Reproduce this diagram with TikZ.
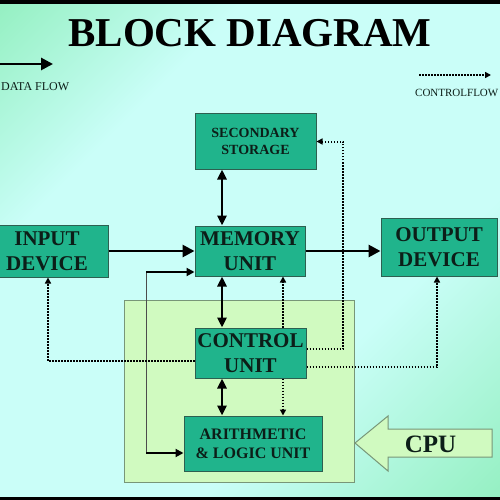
\documentclass[tikz,border=0pt]{standalone}
\usepackage{fontspec}
\setmainfont{Liberation Serif}
\usepackage{xcolor}
\usepackage{tikz}
\usetikzlibrary{arrows.meta, positioning}
\definecolor{unitgreen}{RGB}{32,180,140}
\definecolor{unitedge}{RGB}{45,95,80}
\definecolor{cpugreen}{RGB}{208,250,192}
\definecolor{cpuedge}{RGB}{120,150,120}
\definecolor{bgmint}{RGB}{150,240,195}
\definecolor{bgcyan}{RGB}{202,254,248}
\definecolor{inkdark}{RGB}{12,30,24}
\pgfdeclarehorizontalshading{backdrop}{100bp}{color(0bp)=(bgmint); color(15bp)=(bgmint); color(32bp)=(bgcyan); color(64bp)=(bgcyan); color(85bp)=(bgmint); color(100bp)=(bgmint)}

\tikzset{
    unit/.style={fill=unitgreen, draw=unitedge, line width=1pt, align=center, inner sep=0pt, text=inkdark, font=\fontsize{21}{25}\selectfont\bfseries},
    smallunit/.style={unit, font=\fontsize{14}{17}\selectfont\bfseries},
    dataflow/.style={line width=2.8pt, -{Triangle[length=12pt,width=12pt]}},
    twoway/.style={line width=2.6pt, {Triangle[length=10pt,width=9pt]}-{Triangle[length=10pt,width=9pt]}},
    feedarrow/.style={line width=2pt, -{Triangle[length=8pt,width=8pt]}},
    ctrlflow/.style={line width=2pt, dash pattern=on 1.5pt off 1.5pt, -{Triangle[length=6pt,width=6pt]}},
    legendtext/.style={inner sep=0pt, text=inkdark}
}

\begin{document}
\begin{tikzpicture}[x=1pt, y=-1pt]
    % backdrop
    \useasboundingbox (0,0) rectangle (500,500);
    \shade[shading=backdrop, shading angle=-45] (0,0) rectangle (500,500);
    \fill[black] (0,0) rectangle (500,4);
    \fill[black] (0,497) rectangle (500,500);

    \node[font=\fontsize{41}{48}\selectfont\bfseries] (title) at (250,33) {BLOCK DIAGRAM};

    % legend
    \coordinate (dfstart) at (-4,64);
    \coordinate (dfend) at (53,64);
    \draw[dataflow] (dfstart) -- (dfend);
    \node[legendtext, anchor=base west, font=\fontsize{12}{14}\selectfont] (dflabel) at (1,91) {DATA FLOW};
    \coordinate (cfstart) at (419,75);
    \coordinate (cfend) at (491,75);
    \draw[ctrlflow] (cfstart) -- (cfend);
    \node[legendtext, anchor=base west, font=\fontsize{11}{13}\selectfont] (cflabel) at (415,96) {CONTROLFLOW};

    % cpu region
    \node[fill=cpugreen, draw=cpuedge, line width=1pt, minimum width=230, minimum height=182, inner sep=0pt] (cpu) at (239,391) {};
    \draw[fill=cpugreen, draw=cpuedge, line width=1pt] (355,443) -- (388,416) -- (388,429) -- (492,429) -- (492,457) -- (388,457) -- (388,471) -- cycle;
    \node[text=inkdark, font=\fontsize{25}{30}\selectfont\bfseries] (cpulabel) at (430.5,444) {CPU};

    % units
    \node[smallunit, minimum width=121, minimum height=55] (storage) at (255.5,141.5) {SECONDARY\\STORAGE};
    \node[unit, minimum width=122, minimum height=52] (input) at (47,251) {INPUT\\DEVICE};
    \node[unit, minimum width=110, minimum height=50] (memory) at (250,251) {MEMORY\\UNIT};
    \node[unit, minimum width=116, minimum height=58] (output) at (439,247) {OUTPUT\\DEVICE};
    \node[unit, minimum width=111, minimum height=50] (control) at (250.5,353) {CONTROL\\UNIT};
    \node[smallunit, font=\fontsize{16}{19}\selectfont\bfseries, minimum width=138, minimum height=55] (alu) at (253,443.5) {ARITHMETIC\\\& LOGIC UNIT};

    % lanes
    \coordinate (duct) at (222,0);
    \coordinate (cline) at (283,0);
    \coordinate (feed) at (146,0);
    \coordinate (inlane) at (48,0);
    \coordinate (stlane) at (343,0);
    \coordinate (outlane) at (437,0);

    % data paths
    \draw[twoway] (storage.south -| duct) -- (memory.north -| duct);
    \draw[twoway] (memory.south -| duct) -- (control.north -| duct);
    \draw[twoway] (control.south -| duct) -- (alu.north -| duct);
    \draw[dataflow] (input) -- (memory);
    \draw[dataflow] (memory.east) -- (memory.east -| output.west);
    \coordinate (memin) at ([yshift=-21pt]memory.west);
    \coordinate (aluin) at ([yshift=-9.5pt]alu.west);
    \draw[gray!60!black, line width=1pt] (memin -| feed) -- (aluin -| feed);
    \draw[feedarrow] (memin -| feed) -- (memin);
    \draw[feedarrow] (aluin -| feed) -- (aluin);

    % control paths
    \coordinate (cuin) at ([yshift=-8pt]control.west);
    \coordinate (custore) at ([yshift=4pt]control.east);
    \coordinate (cuout) at ([yshift=-14pt]control.east);
    \draw[ctrlflow] (cuin) -| (input.south -| inlane);
    \draw[ctrlflow] (custore) -| (stlane |- storage.east) -- (storage.east);
    \draw[ctrlflow] (cuout) -| (output.south -| outlane);
    \draw[ctrlflow] (control.north -| cline) -- (memory.south -| cline);
    \draw[ctrlflow] (control.south -| cline) -- (alu.north -| cline);
\end{tikzpicture}
\end{document}
